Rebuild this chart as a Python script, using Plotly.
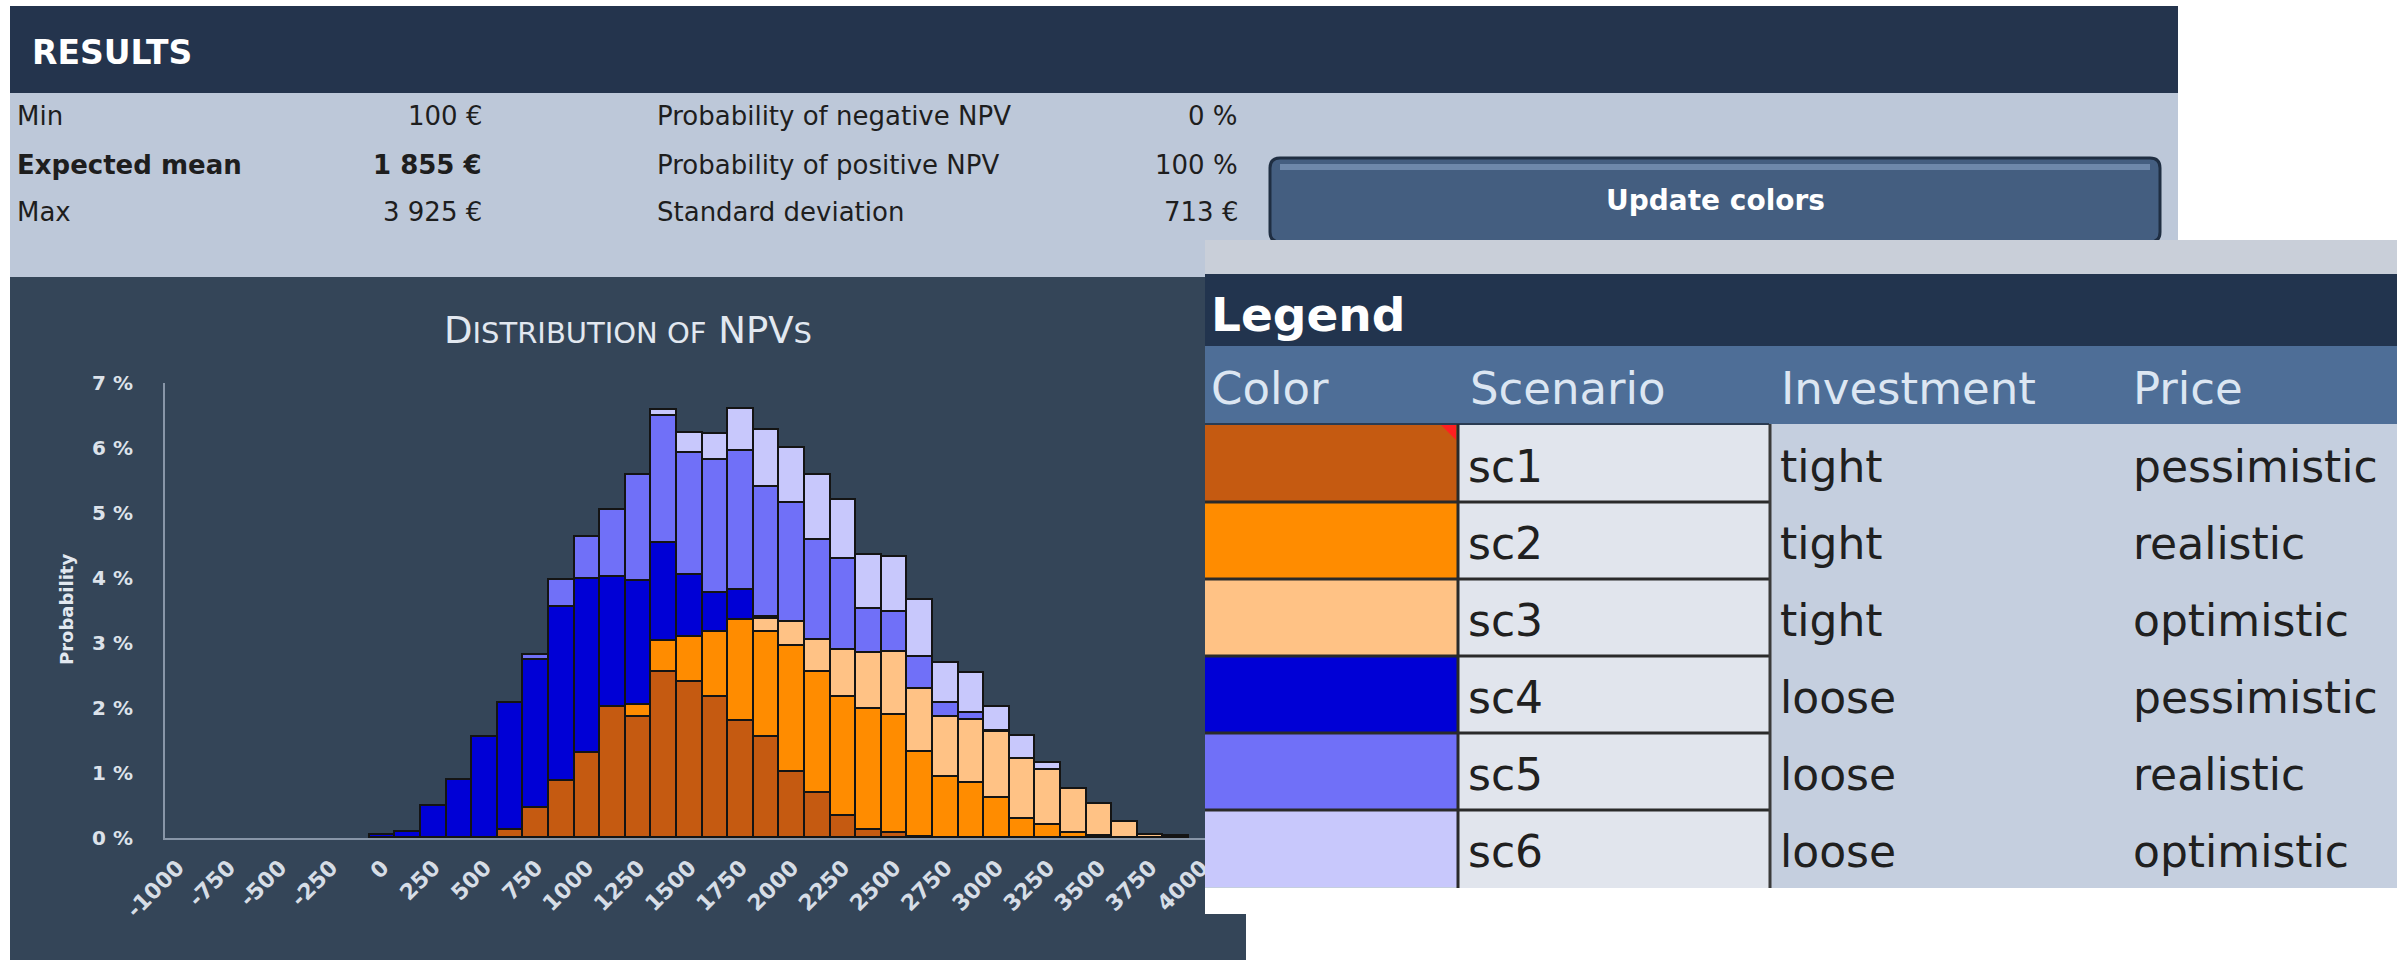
import plotly.graph_objects as go

W, H = 2397, 960

# ---------------- data ----------------
npv_bins = [0, 125, 250, 375, 500, 625, 750, 875, 1000, 1125, 1250, 1375, 1500, 1625, 1750, 1875,
            2000, 2125, 2250, 2375, 2500, 2625, 2750, 2875, 3000, 3125, 3250, 3375, 3500, 3625, 3750, 3875]

# probability per NPV bin (%) for each scenario, stacked sc1 (bottom) to sc6 (top)
sc1 = [0, 0, 0, 0, 0, 0.13, 0.46, 0.87, 1.31, 2.02, 1.86, 2.56, 2.40, 2.17, 1.80, 1.56,
       1.02, 0.69, 0.34, 0.12, 0.08, 0.02, 0, 0, 0, 0, 0, 0, 0, 0, 0, 0]
sc2 = [0, 0, 0, 0, 0, 0, 0, 0, 0, 0, 0.18, 0.47, 0.69, 1.00, 1.56, 1.61,
       1.94, 1.87, 1.83, 1.87, 1.81, 1.31, 0.94, 0.84, 0.61, 0.30, 0.20, 0.07, 0.03, 0, 0, 0]
sc3 = [0, 0, 0, 0, 0, 0, 0, 0, 0, 0, 0, 0, 0, 0, 0, 0.20,
       0.36, 0.49, 0.72, 0.85, 0.97, 0.97, 0.92, 0.97, 1.02, 0.91, 0.85, 0.69, 0.50, 0.25, 0.05, 0.03]
sc4 = [0.05, 0.10, 0.49, 0.89, 1.56, 1.94, 2.28, 2.68, 2.68, 1.99, 1.92, 1.51, 0.95, 0.60, 0.45, 0.03,
       0, 0, 0, 0, 0, 0, 0, 0, 0, 0, 0, 0, 0, 0, 0, 0]
sc5 = [0, 0, 0, 0, 0, 0, 0.07, 0.42, 0.64, 1.04, 1.63, 1.96, 1.89, 2.05, 2.15, 2.00,
       1.83, 1.54, 1.41, 0.69, 0.62, 0.49, 0.21, 0.11, 0.02, 0, 0, 0, 0, 0, 0, 0]
sc6 = [0, 0, 0, 0, 0, 0, 0, 0, 0, 0, 0, 0.08, 0.30, 0.40, 0.64, 0.87,
       0.85, 1.00, 0.90, 0.82, 0.84, 0.87, 0.62, 0.62, 0.36, 0.36, 0.11, 0, 0, 0, 0, 0]

scenario_names = ["sc1", "sc2", "sc3", "sc4", "sc5", "sc6"]
scenario_values = [sc1, sc2, sc3, sc4, sc5, sc6]
scenario_colors = ["#C55A11", "#FF8C00", "#FFC285", "#0000D6", "#7070F8", "#C8C8FC"]
investment = ["tight", "tight", "tight", "loose", "loose", "loose"]
price = ["pessimistic", "realistic", "optimistic", "pessimistic", "realistic", "optimistic"]

x_ticks = [-1000, -750, -500, -250, 0, 250, 500, 750, 1000, 1250, 1500, 1750, 2000, 2250,
           2500, 2750, 3000, 3250, 3500, 3750, 4000]
y_ticks = [0, 1, 2, 3, 4, 5, 6, 7]

results_left = [("Min", "100 €"), ("Expected mean", "1 855 €"), ("Max", "3 925 €")]
results_right = [("Probability of negative NPV", "0 %"),
                 ("Probability of positive NPV", "100 %"),
                 ("Standard deviation", "713 €")]

FONT = "DejaVu Sans"


def px(x):
    return x / W


def py(y):
    return 1 - y / H


def rect(x0, y0, x1, y1, fill, layer="below", line_color=None, line_width=0):
    return dict(type="rect", xref="paper", yref="paper",
                x0=px(x0), x1=px(x1), y0=py(y1), y1=py(y0),
                fillcolor=fill, layer=layer,
                line=dict(width=line_width, color=line_color or fill))


def hline(x0, x1, y, color, width, layer="above"):
    return dict(type="line", xref="paper", yref="paper",
                x0=px(x0), x1=px(x1), y0=py(y), y1=py(y),
                line=dict(color=color, width=width), layer=layer)


def vline(x, y0, y1, color, width, layer="above"):
    return dict(type="line", xref="paper", yref="paper",
                x0=px(x), x1=px(x), y0=py(y0), y1=py(y1),
                line=dict(color=color, width=width), layer=layer)


def text(x, y, s, size, color, anchor="left", bold=False, angle=0):
    if bold:
        s = "<b>" + s + "</b>"
    return dict(xref="paper", yref="paper", x=px(x), y=py(y), text=s,
                showarrow=False, xanchor=anchor, yanchor="middle", textangle=angle,
                font=dict(family=FONT, size=size, color=color))


fig = go.Figure()

# stacked histogram bars
for name, vals, col in zip(scenario_names, scenario_values, scenario_colors):
    fig.add_trace(go.Bar(
        x=npv_bins, y=[v if v > 0 else None for v in vals], name=name, width=125,
        marker=dict(color=col, line=dict(color="#141414", width=1.8)),
        showlegend=False))

shapes = []
annotations = []

# ---------- results panel ----------
shapes.append(rect(10, 6, 2178, 93, "#24344D"))
shapes.append(rect(10, 93, 2178, 277, "#BDC8D9"))
shapes.append(rect(10, 277, 1246, 960, "#344558"))
annotations.append(text(30, 52, "RESULTS", 33, "#FFFFFF", bold=True))

row_y = [116, 165, 212]
for (lab, val), (lab2, val2), yy in zip(results_left, results_right, row_y):
    bold = lab == "Expected mean"
    annotations.append(text(15, yy, lab, 26, "#1E1E1E", bold=bold))
    annotations.append(text(484, yy, val, 26, "#1E1E1E", anchor="right", bold=bold))
    annotations.append(text(655, yy, lab2, 26, "#1E1E1E"))
    annotations.append(text(1240, yy, val2, 26, "#1E1E1E", anchor="right"))

# "Update colors" button
bx0, by0, bx1, by1, r = 1270, 158, 2160, 242, 10
path = (f"M {px(bx0 + r)},{py(by0)} L {px(bx1 - r)},{py(by0)} "
        f"Q {px(bx1)},{py(by0)} {px(bx1)},{py(by0 + r)} L {px(bx1)},{py(by1 - r)} "
        f"Q {px(bx1)},{py(by1)} {px(bx1 - r)},{py(by1)} L {px(bx0 + r)},{py(by1)} "
        f"Q {px(bx0)},{py(by1)} {px(bx0)},{py(by1 - r)} L {px(bx0)},{py(by0 + r)} "
        f"Q {px(bx0)},{py(by0)} {px(bx0 + r)},{py(by0)} Z")
shapes.append(dict(type="path", xref="paper", yref="paper", path=path,
                   fillcolor="#445E80", line=dict(color="#1F2E42", width=3), layer="below"))
shapes.append(rect(1280, 164, 2150, 170, "#6E88AA"))
annotations.append(text(1715, 200, "Update colors", 28, "#FFFFFF", anchor="center", bold=True))

# ---------- chart title / axis title ----------
title = ("D<span style='font-size:29px'>ISTRIBUTION OF</span> NPV"
         "<span style='font-size:29px'>S</span>")
annotations.append(text(628, 330, title, 37, "#E2E8F0", anchor="center"))
annotations.append(text(66, 610, "Probability", 18, "#E2E8F0", anchor="center", bold=True, angle=-90))

# ---------- legend table ----------
shapes.append(rect(1205, 240, 2397, 275, "#C9CFD9", layer="above"))
shapes.append(rect(1205, 274, 2397, 346, "#22344E", layer="above"))
shapes.append(rect(1205, 346, 2397, 424, "#4E6E97", layer="above"))
shapes.append(rect(1205, 424, 2397, 888, "#C5CFDF", layer="above"))
shapes.append(rect(1205, 888, 2397, 914, "#FFFFFF", layer="above"))
shapes.append(rect(1459, 424, 1769, 888, "#E1E5ED", layer="above"))

row_h = 77
row_top = 425
for i, (name, col, inv, pr) in enumerate(zip(scenario_names, scenario_colors, investment, price)):
    y0 = row_top + i * row_h
    shapes.append(rect(1205, y0, 1457, y0 + row_h, col, layer="above"))
    yc = y0 + row_h / 2 + 3
    annotations.append(text(1466, yc, name, 44, "#202020"))
    annotations.append(text(1778, yc, inv, 44, "#202020"))
    annotations.append(text(2131, yc, pr, 44, "#202020"))
for i in range(1, 6):
    shapes.append(hline(1205, 1769, row_top + i * row_h, "#2A2A2A", 3))
shapes.append(hline(1205, 1769, row_top - 1, "#2A3B52", 2))
shapes.append(vline(1458, 424, 888, "#2A2A2A", 3))
shapes.append(vline(1770, 424, 888, "#3A3A3A", 3))
# comment marker in the first colour cell
shapes.append(dict(type="path", xref="paper", yref="paper",
                   path=f"M {px(1441)},{py(425)} L {px(1456)},{py(425)} L {px(1456)},{py(440)} Z",
                   fillcolor="#FF2020", line=dict(width=0), layer="above"))

annotations.append(text(1209, 314, "Legend", 47, "#FFFFFF", bold=True))
hdr_y = 388
for x0, lab in [(1209, "Color"), (1468, "Scenario"), (1779, "Investment"), (2131, "Price")]:
    annotations.append(text(x0, hdr_y, lab, 45, "#DCE6F2"))

fig.update_layout(
    template="none",
    width=W, height=H,
    margin=dict(l=0, r=0, t=0, b=0, pad=0, autoexpand=False),
    paper_bgcolor="#FFFFFF",
    plot_bgcolor="rgba(0,0,0,0)",
    barmode="stack",
    bargap=0,
    shapes=shapes,
    annotations=annotations,
    xaxis=dict(domain=[px(165), px(1214.6)], range=[-1062.5, 4062.5], automargin=False,
               tickvals=x_ticks, ticktext=[f"<b>{v}</b>" for v in x_ticks], tickangle=-45,
               showline=True, linecolor="#8896A8", linewidth=2, showgrid=False,
               zeroline=False, ticks="", ticklabelstandoff=6,
               tickfont=dict(family=FONT, size=22, color="#D6DDE6")),
    yaxis=dict(domain=[py(838), py(383)], range=[0, 7], tickvals=y_ticks, automargin=False,
               ticktext=[f"<b>{v} %</b>" for v in y_ticks],
               showline=True, linecolor="#8896A8", linewidth=2, showgrid=False,
               zeroline=False, ticks="", ticklabelstandoff=26,
               tickfont=dict(family=FONT, size=20, color="#DCE2EA")),
)

fig.write_html("out.html")
